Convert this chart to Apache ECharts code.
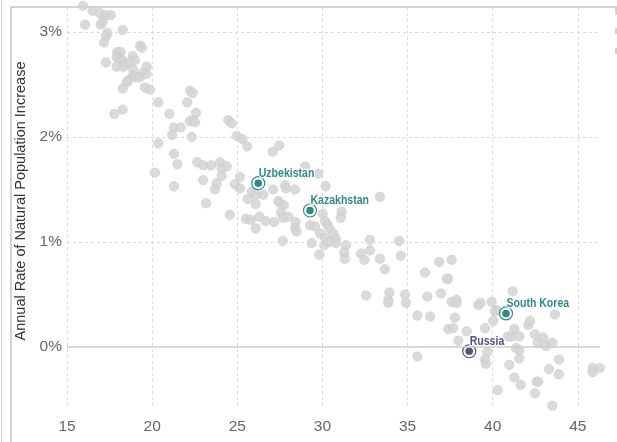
<!DOCTYPE html>
<html><head><meta charset="utf-8">
<script src="https://cdn.jsdelivr.net/npm/echarts@6/dist/echarts.min.js"></script>
<style>html,body{margin:0;padding:0;background:#fff}#c{width:617px;height:442px}</style>
</head><body><div id="c"></div>
<script>
const xTicks = [15, 20, 25, 30, 35, 40, 45];
const yTicks = [0, 1, 2, 3];
const otherAge = [
15.94,16.51,16.94,17.29,17.57,16.06,16.98,17.10,17.37,17.29,
17.17,18.27,17.29,17.95,18.15,17.92,18.11,18.27,18.86,18.98,
19.29,19.40,18.58,17.92,18.31,18.89,18.86,19.05,19.29,19.45,
19.68,19.68,18.60,18.51,18.27,19.58,19.87,20.36,22.22,22.38,
22.06,22.57,22.22,22.42,22.52,21.01,21.28,21.68,21.18,22.32,
18.27,17.78,24.47,24.67,24.96,25.29,25.59,27.47,27.08,20.36,
21.28,21.48,20.17,21.28,22.65,23.00,23.46,23.98,24.08,24.38,
23.00,23.79,23.69,24.08,25.16,24.86,25.16,23.16,24.57,25.51,
25.79,25.61,26.08,26.08,25.85,26.10,26.53,27.11,27.80,27.86,
28.39,28.98,29.76,30.19,27.41,27.51,27.74,27.57,27.70,28.00,
26.29,26.67,27.17,28.43,28.39,28.49,27.67,29.27,29.56,29.86,
29.37,29.82,30.01,30.15,30.28,30.40,30.15,30.11,30.34,30.64,
30.80,30.80,31.13,31.07,31.38,31.28,31.32,33.38,32.79,32.79,
32.26,32.46,33.38,33.67,34.51,34.60,36.02,36.16,32.56,33.93,
33.87,33.87,34.85,34.91,35.57,36.32,36.86,37.59,37.30,37.39,
36.96,37.59,37.88,37.88,39.15,39.29,39.94,40.23,41.17,43.66,
37.78,37.39,37.68,37.98,38.47,39.55,40.03,40.13,41.27,40.88,
41.11,41.56,42.09,42.19,42.48,42.64,42.97,43.13,43.50,41.37,
41.56,41.56,39.68,39.55,39.60,35.57,40.97,41.27,41.64,42.58,
42.68,43.30,43.89,43.89,42.48,40.29,43.50,45.87,45.87,46.30
];
const otherRate = [
3.25,3.20,3.18,3.16,3.16,3.07,3.07,3.10,2.99,2.96,
2.90,3.02,2.71,2.81,2.81,2.76,2.74,2.73,2.77,2.73,
2.87,2.85,2.70,2.67,2.67,2.64,2.58,2.57,2.57,2.61,
2.67,2.60,2.54,2.52,2.46,2.47,2.45,2.33,2.44,2.42,
2.33,2.23,2.15,2.16,2.14,2.22,2.09,2.09,2.02,2.00,
2.26,2.22,2.16,2.13,2.01,1.98,1.91,1.92,1.86,1.94,
1.84,1.74,1.66,1.53,1.76,1.73,1.73,1.76,1.70,1.72,
1.59,1.56,1.50,1.63,1.62,1.55,1.51,1.37,1.26,1.22,
1.21,1.41,1.36,1.13,1.48,1.45,1.45,1.50,1.54,1.51,
1.50,1.72,1.65,1.53,1.39,1.37,1.35,1.28,1.23,1.24,
1.24,1.20,1.19,1.19,1.13,1.10,1.01,1.16,1.15,1.08,
0.99,0.88,1.27,1.20,1.17,1.13,1.04,0.97,1.00,1.08,
1.03,0.99,1.29,1.23,0.97,0.90,0.84,1.43,1.02,0.92,
0.89,0.83,0.84,0.74,1.01,0.87,0.71,0.48,0.49,0.52,
0.45,0.42,0.50,0.42,0.30,0.29,0.81,0.83,0.65,0.65,
0.51,0.43,0.45,0.42,0.40,0.42,0.43,0.35,0.53,0.31,
0.28,0.17,0.18,0.06,0.15,0.18,0.25,0.34,0.17,0.10,
0.10,0.10,0.21,0.25,0.12,0.04,0.09,0.01,0.04,-0.01,
-0.03,-0.11,-0.05,-0.12,-0.16,-0.09,-0.17,-0.29,-0.36,-0.33,
-0.33,-0.21,-0.12,-0.26,-0.44,-0.41,-0.56,-0.20,-0.24,-0.20
];
const highlightNames = ['Uzbekistan', 'Kazakhstan', 'South Korea', 'Russia'];
const highlightAge = [26.23, 29.27, 40.78, 38.62];
const highlightRate = [1.56, 1.30, 0.32, -0.04];

const TEAL = '#2f8b89', SLATE = '#4b5683';
const hlColors = [TEAL, TEAL, TEAL, SLATE];
const SANS = "'Liberation Sans',Arial,sans-serif";

const grayData = otherAge.map((a, i) => [a, otherRate[i]]);
const hlData = highlightAge.map((a, i) => [a, highlightRate[i]]);

const chart = echarts.init(document.getElementById('c'), null, { renderer: 'canvas' });
chart.setOption({
  animation: false,
  backgroundColor: '#fff',
  grid: { left: 67, right: 17, top: 7, bottom: 35, containLabel: false },
  xAxis: {
    type: 'value', min: 15, max: 46.3, interval: 5,
    axisLine: { show: false }, axisTick: { show: false },
    splitLine: { show: true, showMinLine: true, showMaxLine: false, lineStyle: { color: '#dadada', type: [3, 3], width: 1 } },
    axisLabel: {
      formatter: v => (xTicks.indexOf(Math.round(v)) >= 0 && Math.abs(v - Math.round(v)) < 1e-6) ? String(Math.round(v)) : '',
      color: '#666', fontSize: 15.5, fontFamily: SANS, margin: 12
    }
  },
  yAxis: {
    type: 'value', min: -0.571, max: 3.238,
    name: 'Annual Rate of Natural Population Increase',
    nameLocation: 'middle', nameGap: 33, nameRotate: 90,
    nameTextStyle: { color: '#333', fontSize: 14.5, fontFamily: SANS, padding: [0, 0, 0, 12] },
    axisLine: { show: false }, axisTick: { show: false },
    splitLine: { show: false },
    axisLabel: {
      customValues: yTicks,
      formatter: v => Math.round(v) + '%',
      color: '#666', fontSize: 15.5, fontFamily: SANS, margin: 5
    }
  },
  series: [
    {
      type: 'scatter', data: grayData, symbolSize: 9.5, clip: false,
      itemStyle: { color: '#d4d4d4', opacity: 0.85, borderColor: '#c8c8c8', borderWidth: 0.6 },
      markLine: {
        silent: true, symbol: 'none', label: { show: false },
        data: yTicks.map(t => ({
          yAxis: t,
          lineStyle: t === 0 ? { color: '#cccccc', type: 'solid', width: 1.5 } : { color: '#dadada', type: [3, 3], width: 1 }
        }))
      },
      z: 2
    },
    {
      type: 'custom', data: hlData, clip: false, z: 4,
      renderItem: (params, api) => {
        const p = api.coord([api.value(0), api.value(1)]);
        const c = hlColors[params.dataIndex];
        return {
          type: 'group',
          children: [
            { type: 'circle', shape: { cx: p[0], cy: p[1], r: 6.5 }, style: { fill: 'rgba(255,255,255,0.6)', stroke: c, lineWidth: 1.2 } },
            { type: 'circle', shape: { cx: p[0], cy: p[1], r: 3.8 }, style: { fill: c } },
            {
              type: 'text', x: p[0] + 0.5, y: p[1] - 10, scaleX: 0.78,
              style: {
                text: highlightNames[params.dataIndex], fill: c,
                font: "bold 13.5px 'Liberation Sans', Arial, sans-serif",
                textAlign: 'left', textVerticalAlign: 'middle',
                stroke: '#fff', lineWidth: 2.5
              }
            }
          ]
        };
      }
    }
  ],
  graphic: [
    { type: 'line', shape: { x1: 1.5, y1: 0, x2: 1.5, y2: 442 }, style: { stroke: '#d0d0d0', lineWidth: 1 }, silent: true },
    { type: 'line', shape: { x1: 11, y1: 7, x2: 11, y2: 442 }, style: { stroke: '#a8a8a8', lineWidth: 1 }, silent: true },
    { type: 'line', shape: { x1: 11, y1: 7, x2: 617, y2: 7 }, style: { stroke: '#a8a8a8', lineWidth: 1.2 }, silent: true },
    { type: 'rect', shape: { x: 615, y: 8, width: 2, height: 7 }, style: { fill: '#d0d0d0' }, silent: true },
    { type: 'rect', shape: { x: 615, y: 28, width: 2, height: 6 }, style: { fill: '#d0d0d0' }, silent: true },
    { type: 'rect', shape: { x: 615, y: 48, width: 2, height: 6 }, style: { fill: '#d0d0d0' }, silent: true }
  ]
});
</script>
</body></html>
